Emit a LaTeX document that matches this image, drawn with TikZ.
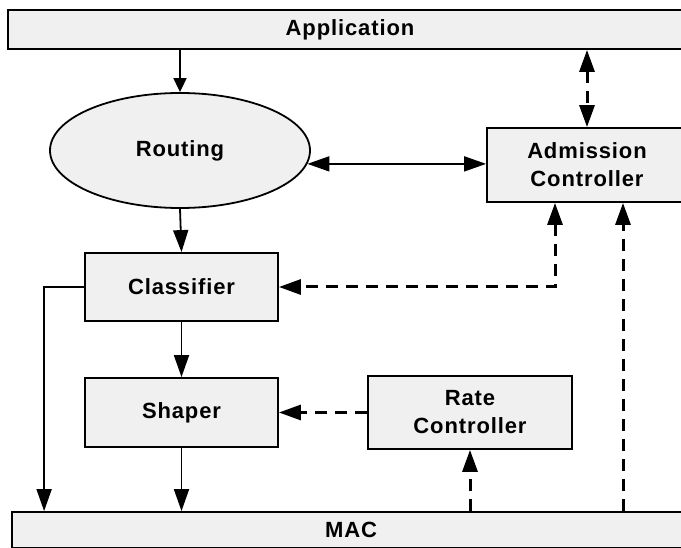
\documentclass[tikz,border=0pt]{standalone}
\usepackage{fontspec}
\setmainfont{Liberation Sans}[LetterSpace=4]
\usepackage{tikz}
\usetikzlibrary{shapes, arrows.meta, positioning, calc}
\definecolor{boxgray}{RGB}{240,240,240}
\tikzstyle{block} = [rectangle, draw=black, line width=1.8pt, fill=boxgray, align=center, font=\fontsize{22}{28}\selectfont\bfseries]
\tikzstyle{bar} = [block, minimum width=684pt]
\tikzstyle{arr} = [line width=1.8pt, -{Triangle[length=22pt, width=15pt]}]
\tikzstyle{arrboth} = [line width=1.8pt, {Triangle[length=22pt, width=15pt]}-{Triangle[length=22pt, width=15pt]}]
\tikzstyle{arrsmall} = [line width=1.8pt, -{Triangle[length=14pt, width=13pt]}]
\tikzstyle{darr} = [line width=3pt, dash pattern=on 12pt off 8pt, -{Triangle[length=22pt, width=15pt]}]
\tikzstyle{darrboth} = [darr, {Triangle[length=22pt, width=15pt]}-{Triangle[length=22pt, width=15pt]}]

\begin{document}
\begin{tikzpicture}[x=1pt, y=-1pt]
\useasboundingbox (0,0) rectangle (681,548);
\clip (0,0) rectangle (681,548);
\node (app) [bar, minimum height=39pt] at (350,29.5) {Application};
\node (mac) [bar, minimum width=678pt, minimum height=36pt] at (351,530) {MAC};
\node (rout) [block, ellipse, minimum width=260pt, minimum height=115pt] at (180,150.5) {Routing};
\node (cls) [block, minimum width=193pt, minimum height=68pt] at (181.5,287) {Classifier};
\node (shp) [block, minimum width=193pt, minimum height=69pt] at (181.5,412.5) {Shaper};
\node (adm) [block, minimum width=200pt, minimum height=74pt] at (587,165) {Admission\\Controller};
\node (rate) [block, minimum width=204pt, minimum height=73pt] at (470,412.5) {Rate\\Controller};
% solid flow
\draw[arrsmall] (app.south -| rout.north) -- (rout.north);
\draw[arr] (rout.south) -- (cls.north);
\draw[arr] (cls.south) -- (shp.north);
\draw[arr] (shp.south) -- (shp.south |- mac.north);
\draw[arr] (cls.west) -| ([xshift=33pt]mac.north west);
\draw[arrboth] (rout.-6.5) -- (rout.-6.5 -| adm.west);
% control (dashed)
\draw[darrboth] (app.south -| adm.north) -- (adm.north);
\draw[darrboth] ([xshift=-32pt]adm.south) |- (cls.east);
\draw[darr] (mac.north -| adm.south) ++(36,0) -- ([xshift=36pt]adm.south);
\draw[darr] (rate.west) -- (shp.east);
\draw[darr] (mac.north -| rate.south) -- (rate.south);
\end{tikzpicture}
\end{document}
